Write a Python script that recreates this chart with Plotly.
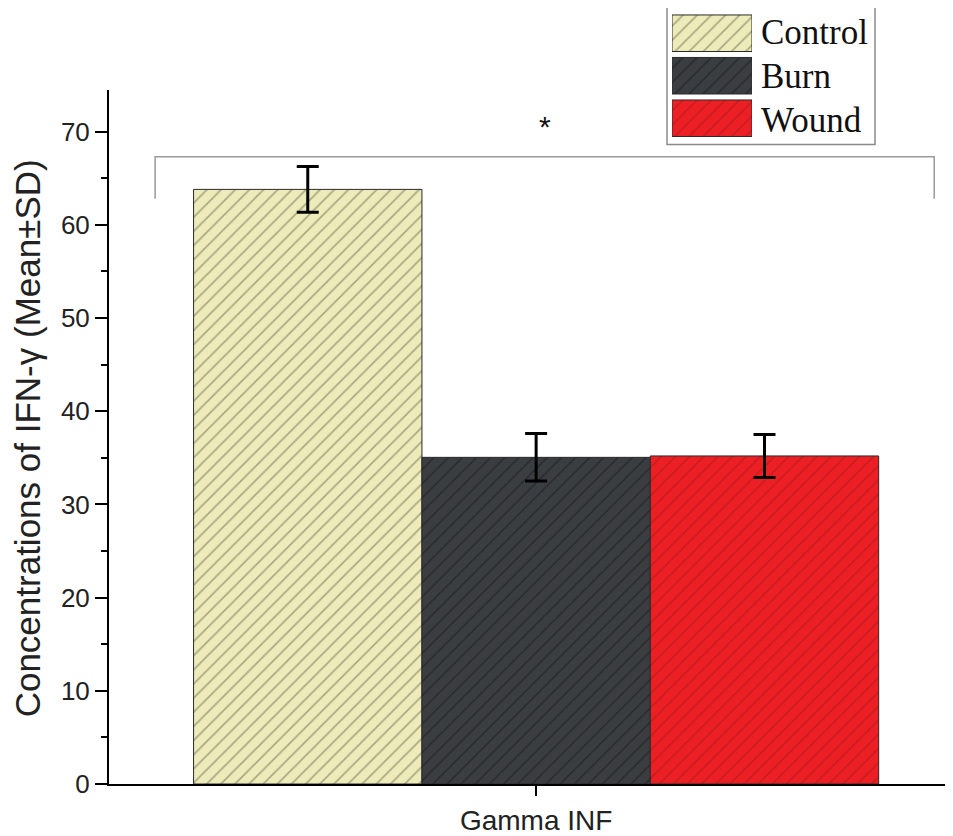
import plotly.graph_objects as go

# ---- data ----
groups = ["Control", "Burn", "Wound"]
category = ["Gamma INF"]
means = [63.8, 35.05, 35.2]
sds = [2.45, 2.55, 2.3]
bg_colors = ["#ecebb9", "#3b3e41", "#ec2024"]
fg_colors = ["#66654a", "#17181a", "#a8161a"]
y_ticks = [0, 10, 20, 30, 40, 50, 60, 70]
bracket_y = 67.3
bracket_leg_y = 62.8
star_y = 70.6

# page body adds an 8px offset; target pixel coordinates are page coordinates
OFF = 8
W, H = 953 - OFF, 836 - OFF
ML, MR, MT, MB = 109 - OFF, 0, 0, 49
PW, PH = W - ML - MR, H - MT - MB


def px_x(p):
    return (p - OFF - ML) / PW


def px_y(p):
    return (H - MB - (p - OFF)) / PH


fig = go.Figure()

for g, m, s, bg, fg in zip(groups, means, sds, bg_colors, fg_colors):
    fig.add_trace(go.Bar(
        x=category, y=[m], name=g,
        marker=dict(color=bg, line=dict(color="#2a2a2a", width=1),
                    pattern=dict(shape="/", bgcolor=bg, fgcolor=fg, size=10,
                                 solidity=0.17, fillmode="overlay")),
        error_y=dict(type="data", array=[s], color="black", thickness=3, width=11),
        showlegend=False, xaxis="x", yaxis="y",
    ))

# legend drawn as a small subplot
for g, bg, fg in zip(groups, bg_colors, fg_colors):
    fig.add_trace(go.Bar(
        y=[g], x=[1], orientation="h",
        marker=dict(color=bg, line=dict(color="#2a2a2a", width=1),
                    pattern=dict(shape="/", bgcolor=bg, fgcolor=fg, size=10,
                                 solidity=0.17, fillmode="overlay")),
        showlegend=False, xaxis="x2", yaxis="y2", hoverinfo="skip",
    ))

row_centers = [33, 77, 121]
for g, rc in zip(groups, row_centers):
    fig.add_annotation(x=px_x(759), y=px_y(rc), xref="paper", yref="paper",
                       text=g, showarrow=False, xanchor="left", yanchor="middle",
                       font=dict(family="Liberation Serif", size=35, color="#111"))

fig.add_shape(type="rect", xref="paper", yref="paper",
              x0=px_x(667), x1=px_x(875), y0=px_y(145), y1=px_y(5),
              line=dict(color="#8a8a8a", width=1.5), fillcolor="rgba(0,0,0,0)")

# significance bracket
bx0, bx1 = -0.446, 0.466
fig.add_shape(type="path", xref="x", yref="y",
              path=f"M {bx0},{bracket_leg_y} L {bx0},{bracket_y} L {bx1},{bracket_y} L {bx1},{bracket_leg_y}",
              line=dict(color="#999999", width=1.5))
fig.add_annotation(x=0.01, y=star_y, xref="x", yref="y", text="*", showarrow=False,
                   font=dict(family="Liberation Sans", size=30, color="#111"))

# y title
fig.add_annotation(x=px_x(27), y=px_y(440), xref="paper", yref="paper",
                   xanchor="center", yanchor="middle",
                   text="Concentrations of IFN-γ (Mean±SD)", textangle=-90,
                   showarrow=False, font=dict(family="Liberation Sans", size=35, color="#222"))

fig.update_layout(
    width=W, height=H,
    margin=dict(l=ML, r=MR, t=MT, b=MB),
    paper_bgcolor="white", plot_bgcolor="white",
    barmode="group", bargap=0.198, bargroupgap=0,
    showlegend=False,
    xaxis=dict(type="category", range=[-0.5, 0.488], showline=True, linecolor="black",
               linewidth=2, ticks="outside", ticklen=10, tickwidth=2, tickcolor="black",
               showgrid=False, zeroline=False,
               tickfont=dict(family="Liberation Sans", size=28, color="#222")),
    yaxis=dict(domain=[0, px_y(90)], range=[0, 74.5], showline=True, linecolor="black",
               linewidth=2, ticks="outside", ticklen=12, tickwidth=2, tickcolor="black",
               tickvals=y_ticks, showgrid=False, zeroline=False,
               minor=dict(ticks="outside", ticklen=6, tickwidth=2, tickcolor="black", dtick=5),
               tickfont=dict(family="Liberation Sans", size=26, color="#222")),
    xaxis2=dict(domain=[px_x(672), px_x(752)], range=[0, 1], anchor="y2",
                visible=False, fixedrange=True),
    yaxis2=dict(domain=[px_y(140), px_y(12)], anchor="x2", type="category",
                autorange="reversed", visible=False, fixedrange=True),
)
fig.update_traces(selector=dict(xaxis="x2"), width=0.86)

fig.write_html("out.html")
